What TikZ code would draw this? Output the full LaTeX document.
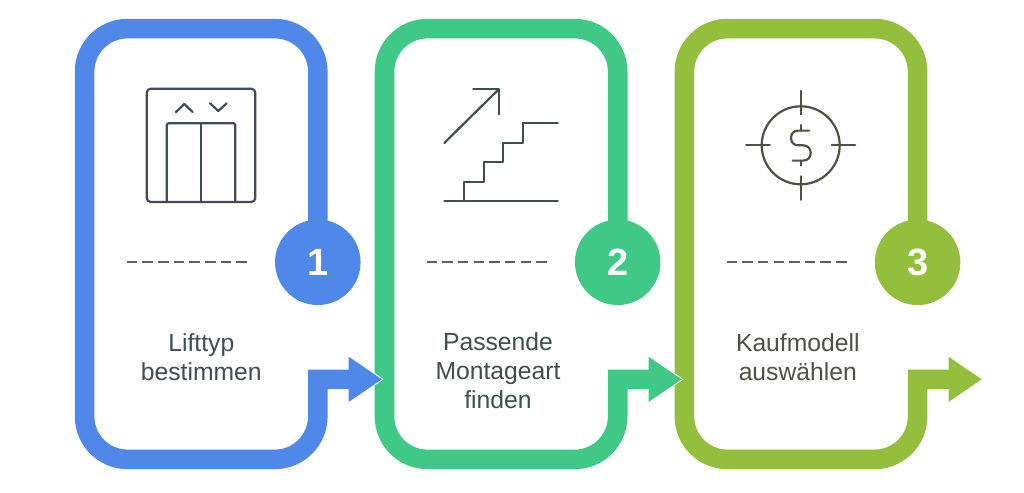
\documentclass[tikz,border=0pt]{standalone}
\usepackage{fontspec}
\setmainfont{Liberation Sans}
\definecolor{cblue}{HTML}{4F88E8}
\definecolor{cgreen}{HTML}{3FC886}
\definecolor{colive}{HTML}{93BF3C}
\definecolor{tblue}{HTML}{414B5A}
\definecolor{tgreen}{HTML}{3F5048}
\definecolor{tolive}{HTML}{4E5244}
\definecolor{dashgray}{HTML}{5C6064}
\tikzset{
  framepath/.style={line width=19.6pt,line join=miter},
  badge/.style={circle,minimum size=85.5pt,inner sep=0pt,text=white,font=\bfseries\fontsize{38}{38}\selectfont},
  label/.style={align=center,inner sep=0pt,font=\fontsize{24.7}{29}\selectfont},
  icon/.style={line width=2.2pt,line cap=round,line join=round},
  dashline/.style={line width=2.3pt,dash pattern=on 10.5pt off 5.14pt,dashgray},
}
\begin{document}
\begin{tikzpicture}[x=1pt,y=-1pt]
\useasboundingbox (0,0) rectangle (1024,492);
\fill[white] (0,0) rectangle (1024,492);
% frames, right to left so each arrow lies over the next frame
\foreach \o/\n/\c/\lbl in {599.8/3/colive/3, 299.9/2/cgreen/2, 0/1/cblue/1}{
  \begin{scope}[xshift=\o pt]
    \coordinate (tip\n) at (381.8,379.3);
    \coordinate (hu\n) at (348.7,356.7);
    \coordinate (hd\n) at (348.7,402);
    \coordinate (sh\n) at (352,379.3);
    \node[badge,fill=\c] (b\n) at (317.8,262.3) {\lbl};
    \draw[white,line width=2pt,line join=miter] (tip\n) -- (hu\n) -- (hd\n) -- cycle;
    \fill[\c] (tip\n) -- (hu\n) -- (hd\n) -- cycle;
    \draw[framepath,\c] ([yshift=-4pt]b\n.north) -- (317.8,71.6)
      .. controls (317.8,47.85) and (298.55,28.6) .. (274.8,28.6)
      -- (127.6,28.6)
      .. controls (103.85,28.6) and (84.6,47.85) .. (84.6,71.6)
      -- (84.6,416.4)
      .. controls (84.6,440.15) and (103.85,459.4) .. (127.6,459.4)
      -- (274.8,459.4)
      .. controls (298.55,459.4) and (317.8,440.15) .. (317.8,416.4)
      -- (317.8,379.3) -- (sh\n);
  \end{scope}
}
% dashes
\foreach \o/\n in {0/1,299.9/2,599.8/3}{
  \begin{scope}[xshift=\o pt]
    \coordinate (da\n) at (126.8,262.3);
    \coordinate (db\n) at (246.8,262.3);
    \draw[dashline] (da\n) -- (db\n);
  \end{scope}
}
% labels
\node[label,text=tblue] (t1) at (201.3,357) {Lifttyp\\bestimmen};
\node[label,text=tgreen] (t2) at (498,371) {Passende\\Montageart\\finden};
\node[label,text=tolive] (t3) at (797.8,357) {Kaufmodell\\auswählen};
% lift icon
\draw[icon,tblue,rounded corners=4pt] (146.7,88.7) rectangle (255.3,202);
\draw[icon,tblue,rounded corners=2pt] (166.7,202) -- (166.7,123.3) -- (235.3,123.3) -- (235.3,202);
\draw[icon,tblue] (201,123.3) -- (201,202);
\draw[icon,tblue] (176,112) -- (184.3,104) -- (192.7,112);
\draw[icon,tblue] (210,103.3) -- (218.3,111) -- (226.7,103.3);
% stairs icon
\draw[icon,tgreen] (444.3,143) -- (498.7,89.3);
\draw[icon,tgreen] (473.3,89.3) -- (498.7,89.3) -- (498.7,114.3);
\draw[icon,tgreen] (444.3,201.3) -- (557.7,201.3);
\draw[icon,tgreen] (464.3,201.3) -- (464.3,182) -- (484,182) -- (484,162.3) -- (503.3,162.3) -- (503.3,142.7) -- (523.3,142.7) -- (523.3,123) -- (557.7,123);
% target icon
\begin{scope}[shift={(800.7,145.3)}]
  \draw[icon,tolive] (0,0) circle[radius=39pt];
  \draw[icon,tolive] (0,-54.5) -- (0,-31) (0,54.5) -- (0,31) (-54.5,0) -- (-31,0) (54.5,0) -- (31,0);
  \draw[icon,tolive] (0,-20.3) -- (0,-14.7) (0,20.3) -- (0,15.3);
  \draw[icon,tolive] (8.3,-14.7) -- (-2.5,-14.7) .. controls (-7,-14.7) and (-9.7,-11.5) .. (-9.7,-7.3) .. controls (-9.7,-3) and (-7,0) .. (-2.5,0) -- (2.5,0) .. controls (7,0) and (10,3.3) .. (10,7.7) .. controls (10,12) and (7,15.3) .. (2.5,15.3) -- (-8,15.3);
\end{scope}
\end{tikzpicture}
\end{document}
